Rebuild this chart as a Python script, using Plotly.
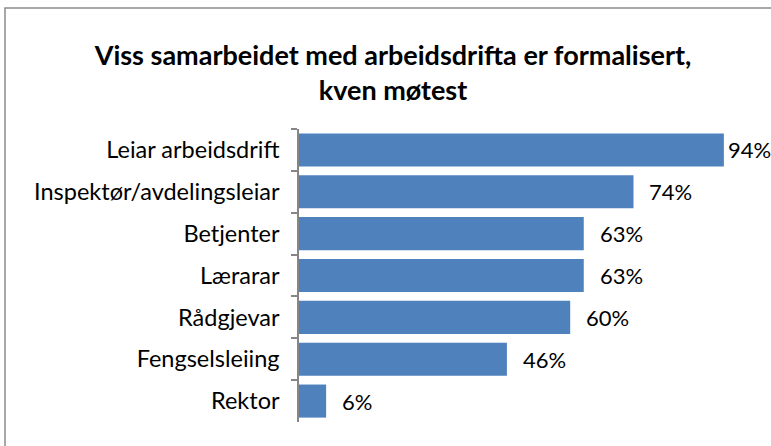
import plotly.graph_objects as go

categories = ["Leiar arbeidsdrift", "Inspektør/avdelingsleiar", "Betjenter", "Lærarar",
              "Rådgjevar", "Fengselsleiing", "Rektor"]
values = [94, 74, 63, 63, 60, 46, 6]
value_labels = ["94%", "74%", "63%", "63%", "60%", "46%", "6%"]
title_text = "Viss samarbeidet med arbeidsdrifta er formalisert,<br>kven møtest"

W, H = 771, 446
L, R, T, B = 299, 20, 129, 24
pw, ph = W - L - R, H - T - B

FONT = "Lato"
fig = go.Figure()
fig.add_trace(go.Bar(
    y=categories, x=values, orientation="h",
    marker=dict(color="#4F81BD", line=dict(width=0)),
    width=0.79, hoverinfo="skip",
))

for c, v, t in zip(categories, values, value_labels):
    fig.add_annotation(x=v, y=c, text=t, showarrow=False, xanchor="left",
                       xshift=2 if v > 90 else 14,
                       font=dict(family=FONT, size=22, color="#000000"))

def px_x(p):
    return (p - L) / pw

def px_y(p):
    return (H - B - p) / ph

fig.add_shape(type="rect", xref="paper", yref="paper",
              x0=px_x(5), x1=px_x(780), y0=px_y(8), y1=px_y(455),
              line=dict(color="#8C8C8C", width=1.5), fillcolor="rgba(0,0,0,0)", layer="below")

fig.update_layout(
    width=W, height=H,
    margin=dict(l=L, r=R, t=T, b=B, autoexpand=False),
    paper_bgcolor="white", plot_bgcolor="white",
    showlegend=False,
    title=dict(text=title_text, x=393 / W, xanchor="center", y=1 - 65 / H, yanchor="middle",
               font=dict(family=FONT, size=27, color="#000000", weight="bold")),
    xaxis=dict(range=[0, 100], visible=False, fixedrange=True),
    yaxis=dict(autorange="reversed", type="category", showline=True, linecolor="#868686",
               linewidth=1.5, ticks="outside", ticklen=6, tickcolor="#868686", tickwidth=1.5,
               tickson="boundaries", showgrid=False, zeroline=False, ticklabelstandoff=13,
               tickfont=dict(family=FONT, size=23.5, color="#000000")),
)

fig.write_html("out.html", config={"displayModeBar": False},
               post_script="document.body.style.margin='0';document.body.style.overflow='hidden';")
